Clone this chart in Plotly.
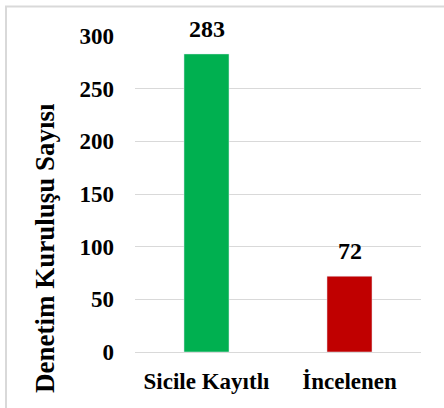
import plotly.graph_objects as go

categories = ["Sicile Kayıtlı", "İncelenen"]
values = [283, 72]
colors = ["#00B050", "#C00000"]
y_ticks = [0, 50, 100, 150, 200, 250, 300]

FONT = "Liberation Serif"
L, R, T, B = 135, 23, 36, 56
PW, PH = 444 - L - R, 408 - T - B

fig = go.Figure(go.Bar(
    x=categories, y=values, marker_color=colors, width=0.315, hoverinfo="skip",
))

for c, v in zip(categories, values):
    fig.add_annotation(x=c, y=v, text=f"<b>{v}</b>", showarrow=False, yanchor="bottom",
                       yshift=10, font=dict(family=FONT, size=24, color="black"))

fig.add_annotation(xref="paper", yref="paper", x=(45 - L) / PW, y=(T + PH - 248) / PH,
                   text="<b>Denetim Kuruluşu Sayısı</b>", textangle=-90, showarrow=False,
                   xanchor="center", yanchor="middle",
                   font=dict(family=FONT, size=27, color="black"))

fig.update_layout(
    width=444, height=408,
    margin=dict(l=L, r=R, t=T, b=B),
    plot_bgcolor="white", paper_bgcolor="white",
    showlegend=False,
    font=dict(family=FONT, color="black"),
    xaxis=dict(
        tickfont=dict(family=FONT, size=23, color="black", weight="bold"),
        ticklabelstandoff=13, showline=False, showgrid=False, automargin=False,
    ),
    yaxis=dict(
        range=[0, 300], tickvals=y_ticks, automargin=False,
        tickfont=dict(family=FONT, size=23, color="black", weight="bold"),
        showgrid=True, gridcolor="#D9D9D9", gridwidth=1.3,
        zeroline=True, zerolinecolor="#D9D9D9", zerolinewidth=1.3,
        ticklabelstandoff=20,
    ),
    shapes=[dict(type="rect", xref="paper", yref="paper",
                 x0=(6 - L) / PW, x1=(460 - L) / PW,
                 y0=(T + PH - 420) / PH, y1=(T + PH - 6.5) / PH,
                 line=dict(color="#D9D9D9", width=2), fillcolor="rgba(0,0,0,0)")],
)

fig.write_html("out.html", config={"displayModeBar": False},
               post_script="document.body.style.margin='0';")
